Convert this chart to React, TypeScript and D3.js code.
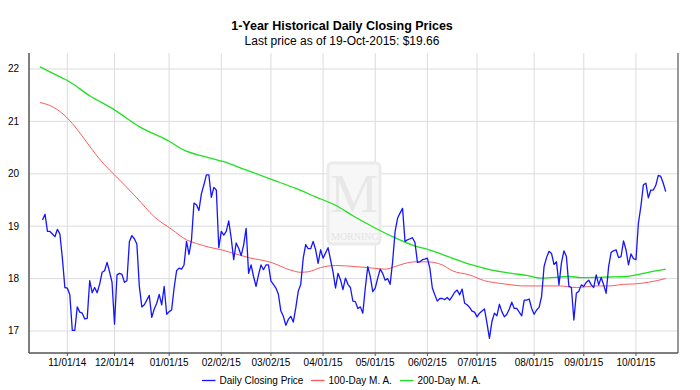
import React from "react";
import * as d3 from "d3";

const titleText = "1-Year Historical Daily Closing Prices";
const subtitleText = "Last price as of 19-Oct-2015: $19.66";

// Daily closing prices, one per trading day (20-Oct-2014 .. 19-Oct-2015)
const closePrices = [
  19.12, 19.23, 18.9, 18.9, 18.85, 18.8, 18.94, 18.85, 18.39, 17.83,
  17.82, 17.69, 17.01, 17.01, 17.46, 17.36, 17.34, 17.23, 17.24, 17.96,
  17.73, 17.83, 17.73, 17.89, 18.12, 18.15, 18.31, 18.13, 17.93, 17.13,
  18.07, 18.1, 18.08, 17.93, 17.96, 18.71, 18.82, 18.76, 18.66, 17.85,
  17.46, 17.5, 17.59, 17.68, 17.26, 17.42, 17.53, 17.7, 17.5, 17.85,
  17.32, 17.37, 17.4, 17.82, 18.15, 18.2, 18.18, 18.26, 18.71, 18.46,
  18.74, 19.44,
  19.41, 19.3, 19.62, 19.79, 19.98, 19.98, 19.55, 19.74, 19.69, 18.59,
  18.9, 18.83, 18.9, 19.1, 18.77, 18.36, 18.68, 18.58, 18.44, 18.64,
  18.96, 18.1, 18.26, 18.04, 17.85, 18.07, 18.26, 18.17, 18.26, 18.26,
  17.95, 17.89, 17.82, 17.7, 17.38, 17.28, 17.11, 17.22, 17.28, 17.17,
  17.44, 17.76, 17.89, 18.39, 18.65, 18.57, 18.57, 18.71, 18.55, 18.29,
  18.55, 18.39, 18.49, 18.59, 18.36, 18.13, 17.82, 18.1, 17.98, 17.79,
  18.01, 17.89, 17.83, 17.57,
  17.56, 17.43, 17.46, 17.34, 17.82, 18.23, 18.04, 17.75, 17.82, 18.01,
  18.18, 18.1, 17.97, 18.0, 17.89, 18.32, 18.9, 19.15, 19.25, 19.34,
  18.71, 18.74, 18.76, 18.78, 18.69, 18.31, 18.32, 18.36, 18.37, 18.39,
  18.2, 17.82, 17.69, 17.57, 17.62, 17.62, 17.6, 17.64, 17.59, 17.66,
  17.74, 17.78, 17.69, 17.8, 17.53, 17.5, 17.45, 17.38, 17.36, 17.27,
  17.34, 17.38, 17.42, 17.15, 16.86, 17.18, 17.34, 17.29, 17.51, 17.37,
  17.27, 17.32, 17.42, 17.55,
  17.43, 17.43, 17.36, 17.29, 17.59, 17.59, 17.61, 17.43, 17.32, 17.4,
  17.45, 17.66, 18.23, 18.4, 18.52, 18.48, 18.27, 18.32, 17.88, 18.3,
  18.53, 18.42, 17.85, 17.83, 17.21, 17.72, 17.76, 17.88, 17.85, 17.93,
  17.97, 17.88, 17.83, 18.07, 17.88, 18.02, 17.88, 17.72, 18.23, 18.5,
  18.53, 18.55, 18.4, 18.42, 18.72, 18.55, 18.26, 18.47, 18.38, 18.36,
  19.06, 19.38, 19.79, 19.82, 19.54, 19.69, 19.69, 19.78, 19.97, 19.95,
  19.82, 19.66,
];

// 100-day moving average, sampled at trading-day indices
const ma100Days = [-1, 4, 7, 12, 16, 20, 25, 29, 38, 45, 52, 58, 62, 67, 72, 83, 92, 100, 104, 107, 112, 118, 126, 133, 138, 142, 146, 150, 155, 161, 165, 172, 178, 184, 189, 193, 201, 208, 215, 223, 228, 234, 239, 244, 251];
const ma100Vals = [21.36, 21.28, 21.19, 20.96, 20.72, 20.46, 20.17, 19.98, 19.54, 19.18, 18.94, 18.74, 18.67, 18.6, 18.55, 18.4, 18.31, 18.16, 18.12, 18.13, 18.21, 18.25, 18.23, 18.2, 18.18, 18.23, 18.29, 18.32, 18.32, 18.26, 18.15, 18.07, 17.96, 17.91, 17.88, 17.86, 17.86, 17.86, 17.83, 17.86, 17.86, 17.89, 17.9, 17.93, 18.0];

// 200-day moving average, sampled at trading-day indices
const ma200Days = [-1, 7, 10, 19, 29, 39, 51, 57, 65, 73, 81, 93, 102, 110, 118, 125, 133, 141, 149, 157, 165, 173, 181, 189, 195, 201, 212, 217, 228, 235, 239, 244, 251];
const ma200Vals = [22.04, 21.85, 21.78, 21.49, 21.22, 20.9, 20.62, 20.45, 20.33, 20.23, 20.09, 19.88, 19.72, 19.56, 19.4, 19.2, 18.99, 18.8, 18.64, 18.53, 18.39, 18.26, 18.16, 18.1, 18.06, 18.01, 18.04, 18.02, 18.03, 18.04, 18.07, 18.12, 18.18];

const tickDays = [10, 29, 51, 72, 92, 113, 134, 155, 175, 198, 218, 239];
const tickLabels = ["11/01/14", "12/01/14", "01/01/15", "02/02/15", "03/02/15", "04/01/15", "05/01/15", "06/02/15", "07/01/15", "08/01/15", "09/01/15", "10/01/15"];
const yTicks = [17, 18, 19, 20, 21, 22];

const seriesNames = ["Daily Closing Price", "100-Day M. A.", "200-Day M. A."];
const seriesColors = ["#1515ff", "#ff5a5a", "#1fe01f"];

export default function App() {
  const W = 700;
  const H = 390;
  const left = 29, right = 678, top = 53, bottom = 353;
  const font = "'Liberation Sans', Arial, sans-serif";

  const x = d3.scaleLinear().domain([-5.44, 255.94]).range([left, right]);
  const y = d3.scaleLinear().domain([16.58, 22.305]).range([bottom, top]);

  const priceLine = d3.line<number>().x((_, i) => x(i)).y((d) => y(d));
  const maLine = d3
    .line<[number, number]>()
    .x((d) => x(d[0]))
    .y((d) => y(d[1]))
    .curve(d3.curveMonotoneX);

  const ma100 = ma100Days.map((d, i) => [d, ma100Vals[i]] as [number, number]);
  const ma200 = ma200Days.map((d, i) => [d, ma200Vals[i]] as [number, number]);

  const legendX = [202, 311, 400];
  const legendY = 380.5;

  return (
    <svg
      width={W}
      height={H}
      style={{ position: "absolute", left: 0, top: 0, background: "#fff" }}
      fontFamily={font}
    >
      <rect x={0} y={0} width={W} height={H} fill="#fff" />
      <text x={342} y={30} textAnchor="middle" fontSize={12.5} fontWeight="bold" fill="#000">
        {titleText}
      </text>
      <text x={342} y={45} textAnchor="middle" fontSize={12} fill="#000">
        {subtitleText}
      </text>

      {/* grid */}
      {yTicks.map((t) => (
        <line key={"gy" + t} x1={left} x2={right} y1={y(t)} y2={y(t)} stroke="#dcdce0" strokeWidth={1} />
      ))}
      {tickDays.map((t) => (
        <line key={"gx" + t} x1={x(t)} x2={x(t)} y1={top} y2={bottom} stroke="#dcdce0" strokeWidth={1} />
      ))}

      {/* watermark */}
      <defs>
        <clipPath id="wm">
          <rect x={328} y={163} width={52} height={81} rx={4} />
        </clipPath>
      </defs>
      <g>
        <rect x={328} y={163} width={52} height={81} rx={4} fill="#f7f7f7" stroke="#ebebeb" strokeWidth={3} />
        <text x={354} y={212} textAnchor="middle" fontSize={54} fontFamily="'Liberation Serif', serif" fill="#e8e8e8">
          M
        </text>
        <text x={331} y={240} fontSize={10} fontFamily="'Liberation Serif', serif" fill="#e4e4e4" clipPath="url(#wm)">
          MORNINGSTAR
        </text>
      </g>

      {/* series */}
      <path d={maLine(ma100) || ""} fill="none" stroke={seriesColors[1]} strokeWidth={1} />
      <path d={maLine(ma200) || ""} fill="none" stroke={seriesColors[2]} strokeWidth={1.3} />
      <path d={priceLine(closePrices) || ""} fill="none" stroke={seriesColors[0]} strokeWidth={1.3} strokeLinejoin="round" />

      {/* axes */}
      <line x1={left} x2={left} y1={top} y2={bottom} stroke="#555" strokeWidth={1.5} />
      <line x1={right} x2={right} y1={top} y2={bottom} stroke="#777" strokeWidth={1.5} />
      <line x1={left} x2={right} y1={bottom} y2={bottom} stroke="#555" strokeWidth={1.5} />
      {tickDays.map((t, i) => (
        <g key={"tx" + t}>
          <line x1={x(t)} x2={x(t)} y1={bottom} y2={bottom + 3} stroke="#555" />
          <text x={x(t)} y={366} textAnchor="middle" fontSize={10} fill="#000">
            {tickLabels[i]}
          </text>
        </g>
      ))}
      {yTicks.map((t) => (
        <text key={"ty" + t} x={19} y={y(t) + 3.5} textAnchor="end" fontSize={10} fill="#000">
          {t}
        </text>
      ))}

      {/* legend */}
      {seriesNames.map((n, i) => (
        <g key={n}>
          <line x1={legendX[i]} x2={legendX[i] + 13.5} y1={legendY} y2={legendY} stroke={seriesColors[i]} strokeWidth={1.3} />
          <text x={legendX[i] + 17.5} y={legendY + 3.5} fontSize={10} fill="#000">
            {n}
          </text>
        </g>
      ))}
    </svg>
  );
}
